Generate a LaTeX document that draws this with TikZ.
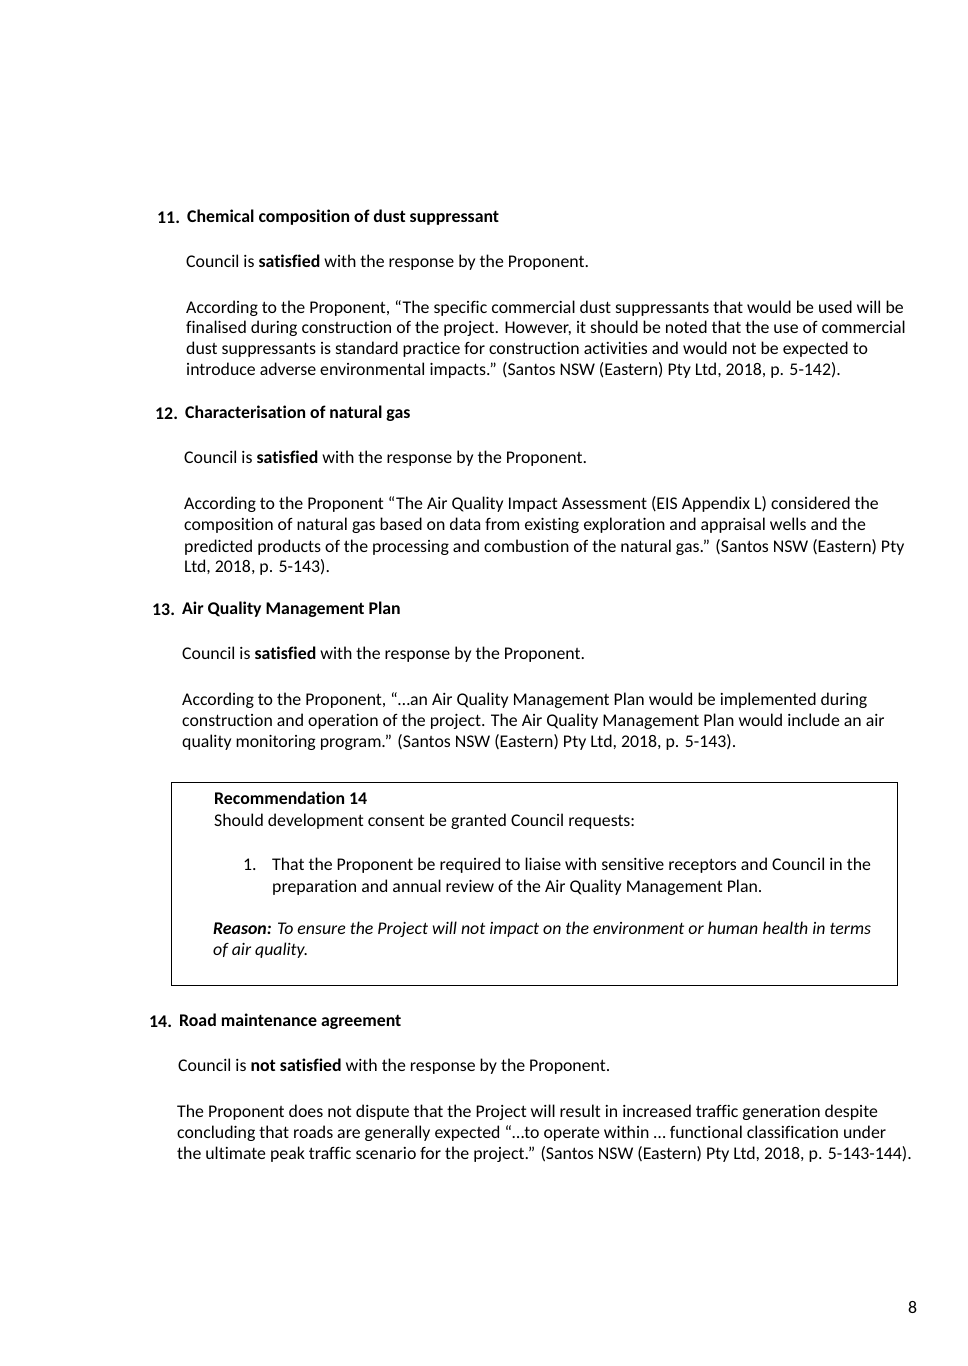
\documentclass[tikz,border=0pt]{standalone}
\usepackage{fontspec}
\setmainfont{Carlito}[Ligatures={NoCommon}]
\usetikzlibrary{positioning}
\tikzset{
  txt/.style={anchor=west, inner sep=0pt, font=\fontsize{17.8}{21}\selectfont},
  head/.style={txt, font=\fontsize{17.8}{21}\selectfont\bfseries},
}
\begin{document}
\begin{tikzpicture}[x=1pt, y=-1pt]
  \useasboundingbox[fill=white] (0,0) rectangle (967,1366);

  % item 11
  \node[head] (n11) at (157,218) {11.};
  \node[head] (h11) at (187,218) {Chemical composition of dust suppressant};
  \node[txt] (c11) at (186,263) {Council is \textbf{satisfied} with the response by the Proponent.};
  \node[txt] (p11a) at (186,309) {According to the Proponent, “The specific commercial dust suppressants that would be used will be};
  \node[txt] (p11b) at (186,329) {finalised during construction of the project. However, it should be noted that the use of commercial};
  \node[txt] (p11c) at (186,350) {dust suppressants is standard practice for construction activities and would not be expected to};
  \node[txt] (p11d) at (186,370) {introduce adverse environmental impacts.” (Santos NSW (Eastern) Pty Ltd, 2018, p. 5-142).};

  % item 12
  \node[head] (n12) at (155,414) {12.};
  \node[head] (h12) at (185,414) {Characterisation of natural gas};
  \node[txt] (c12) at (184,459) {Council is \textbf{satisfied} with the response by the Proponent.};
  \node[txt] (p12a) at (184,505) {According to the Proponent “The Air Quality Impact Assessment (EIS Appendix L) considered the};
  \node[txt] (p12b) at (184,526) {composition of natural gas based on data from existing exploration and appraisal wells and the};
  \node[txt] (p12c) at (184,548) {predicted products of the processing and combustion of the natural gas.” (Santos NSW (Eastern) Pty};
  \node[txt] (p12d) at (184,567) {Ltd, 2018, p. 5-143).};

  % item 13
  \node[head] (n13) at (152,610) {13.};
  \node[head] (h13) at (182,610) {Air Quality Management Plan};
  \node[txt] (c13) at (182,655) {Council is \textbf{satisfied} with the response by the Proponent.};
  \node[txt] (p13a) at (182,701) {According to the Proponent, “…an Air Quality Management Plan would be implemented during};
  \node[txt] (p13b) at (182,722) {construction and operation of the project. The Air Quality Management Plan would include an air};
  \node[txt] (p13c) at (182,743) {quality monitoring program.” (Santos NSW (Eastern) Pty Ltd, 2018, p. 5-143).};

  % recommendation box
  \draw[line width=1pt] (171,782) rectangle (897,985);
  \node[head] (r14) at (214,798) {Recommendation 14};
  \node[txt] (r14a) at (214,822) {Should development consent be granted Council requests:};
  \node[txt] (r14n) at (243,865) {1.};
  \node[txt] (r14b) at (272,866) {That the Proponent be required to liaise with sensitive receptors and Council in the};
  \node[txt] (r14c) at (272,888) {preparation and annual review of the Air Quality Management Plan.};
  \node[txt] (r14d) at (213,930) {\textbf{\itshape Reason:} \itshape To ensure the Project will not impact on the environment or human health in terms};
  \node[txt] (r14e) at (213,951) {\itshape of air quality.};

  % item 14
  \node[head] (n14) at (149,1022) {14.};
  \node[head] (h14) at (179,1022) {Road maintenance agreement};
  \node[txt] (c14) at (178,1067) {Council is \textbf{not satisfied} with the response by the Proponent.};
  \node[txt] (p14a) at (177,1113) {The Proponent does not dispute that the Project will result in increased traffic generation despite};
  \node[txt] (p14b) at (177,1134) {concluding that roads are generally expected “…to operate within … functional classification under};
  \node[txt] (p14c) at (177,1155) {the ultimate peak traffic scenario for the project.” (Santos NSW (Eastern) Pty Ltd, 2018, p. 5-143-144).};

  \node[txt] (pg) at (908,1307) {8};
\end{tikzpicture}
\end{document}
